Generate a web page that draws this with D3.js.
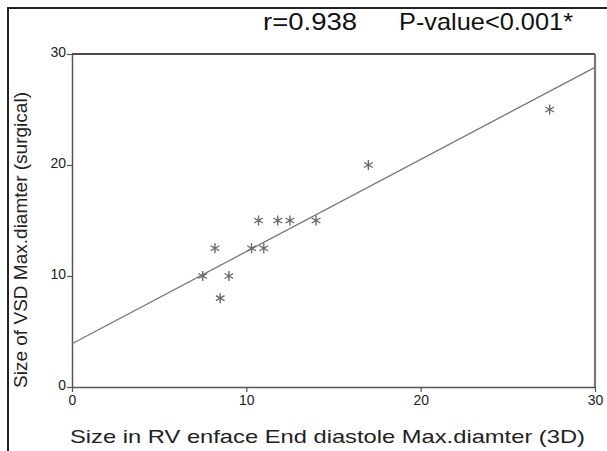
<!DOCTYPE html>
<html>
<head>
<meta charset="utf-8">
<script src="https://cdn.jsdelivr.net/npm/d3@7"></script>
<style>
  body { margin: 0; background: #fff; }
  svg { display: block; }
</style>
</head>
<body>
<script>
// Scatter data
const xValues = [27.4, 17, 14, 12.5, 11.8, 10.7, 11, 10.3, 8.2, 7.5, 9, 8.5];
const yValues = [25, 20, 15, 15, 15, 15, 12.5, 12.5, 12.5, 10, 10, 8];
const xTicks = [0, 10, 20, 30];
const yTicks = [0, 10, 20, 30];
// Fit line end points (x, y)
const fitX = [0, 30];
const fitY = [3.9, 28.8];
const titleParts = ["r=0.938", "P-value<0.001*"];
const xLabel = "Size in RV enface End diastole Max.diamter (3D)";
const yLabel = "Size of VSD Max.diamter (surgical)";

const width = 607;
const height = 451;
const marginTop = 54;
const marginRight = 12;
const marginBottom = 64;
const marginLeft = 72;
const font = "Liberation Sans, Arial, sans-serif";

const svg = d3.select("body").append("svg")
  .attr("width", width)
  .attr("height", height)
  .style("font-family", font);

// outer frame (left and top edges)
svg.append("path")
  .attr("d", `M8,${height} V8 H${width}`)
  .attr("fill", "none")
  .attr("stroke", "#222")
  .attr("stroke-width", 2);

const x = d3.scaleLinear().domain([0, 30]).range([marginLeft, width - marginRight]);
const y = d3.scaleLinear().domain([0, 30]).range([height - marginBottom, marginTop]);

// plot box
svg.append("line")
  .attr("x1", x(0)).attr("x2", x(30)).attr("y1", y(30)).attr("y2", y(30))
  .attr("stroke", "#111").attr("stroke-width", 1.3);
svg.append("line")
  .attr("x1", x(30)).attr("x2", x(30)).attr("y1", y(30)).attr("y2", y(0))
  .attr("stroke", "#777").attr("stroke-width", 2.2);

// axes
const xAxis = svg.append("g")
  .attr("transform", `translate(0,${y(0)})`)
  .call(d3.axisBottom(x).tickValues(xTicks).tickSize(5).tickPadding(3).tickSizeOuter(0));
const yAxis = svg.append("g")
  .attr("transform", `translate(${x(0)},0)`)
  .call(d3.axisLeft(y).tickValues(yTicks).tickSize(5).tickPadding(1).tickSizeOuter(0));

[xAxis, yAxis].forEach(g => {
  g.select(".domain").attr("stroke", "#555").attr("stroke-width", 1.5);
  g.selectAll(".tick line").attr("stroke", "#555").attr("stroke-width", 1.2);
  g.selectAll(".tick text")
    .attr("fill", "#222")
    .style("font-family", font)
    .style("font-size", "14px");
});
yAxis.selectAll(".tick text").attr("dy", "0.2em");

// regression line
svg.append("line")
  .attr("x1", x(fitX[0])).attr("y1", y(fitY[0]))
  .attr("x2", x(fitX[1])).attr("y2", y(fitY[1]))
  .attr("stroke", "#777")
  .attr("stroke-width", 1.3);

// asterisk markers
const pts = xValues.map((v, i) => [v, yValues[i]]);
svg.append("g")
  .selectAll("path")
  .data(pts)
  .join("path")
  .attr("transform", d => `translate(${x(d[0])},${y(d[1])})`)
  .attr("d", d3.symbol(d3.symbolAsterisk, 70))
  .attr("fill", "none")
  .attr("stroke", "#6a6a6a")
  .attr("stroke-width", 1.4);

// title, two pieces
svg.append("text")
  .attr("x", 263).attr("y", 30)
  .attr("font-size", 24)
  .attr("fill", "#111")
  .attr("textLength", 94)
  .attr("lengthAdjust", "spacingAndGlyphs")
  .text(titleParts[0]);
svg.append("text")
  .attr("x", 399).attr("y", 30)
  .attr("font-size", 24)
  .attr("fill", "#111")
  .attr("textLength", 174)
  .attr("lengthAdjust", "spacingAndGlyphs")
  .text(titleParts[1]);

// axis labels
svg.append("text")
  .attr("x", 70)
  .attr("y", 443)
  .attr("font-size", 19)
  .attr("fill", "#222")
  .attr("textLength", 515)
  .attr("lengthAdjust", "spacingAndGlyphs")
  .text(xLabel);

svg.append("text")
  .attr("transform", `translate(27,388) rotate(-90)`)
  .attr("font-size", 19)
  .attr("fill", "#222")
  .attr("textLength", 296)
  .attr("lengthAdjust", "spacingAndGlyphs")
  .text(yLabel);
</script>
</body>
</html>
